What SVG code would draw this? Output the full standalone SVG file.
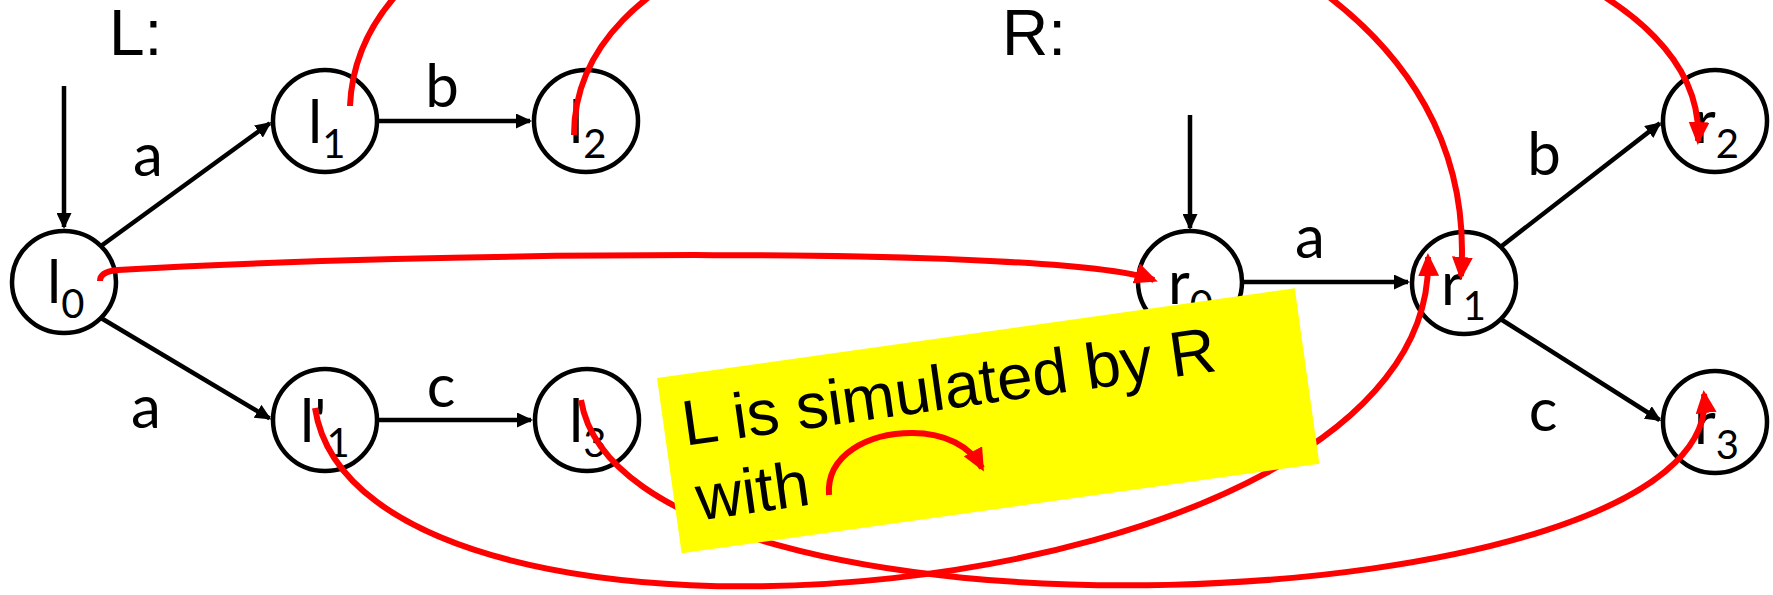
<svg xmlns="http://www.w3.org/2000/svg" width="1773" height="595" viewBox="0 0 1773 595">
  <defs>
    <style>
      .state ellipse { fill: #fff; stroke: #000; stroke-width: 4.5; }
      .state text { font-family: Lato, "Liberation Sans", sans-serif; font-size: 60px; fill: #000; }
      .sub { font-size: 40px; }
      .edge { stroke: #000; stroke-width: 4.5; fill: none; marker-end: url(#ah-black); }
      .sim { stroke: #f00; stroke-width: 6; fill: none; marker-end: url(#ah-red); }
      .lbl { font-family: Lato, "Liberation Sans", sans-serif; font-size: 60px; text-anchor: middle; fill: #000; }
      .title { font-family: "Liberation Sans", Arial, sans-serif; font-size: 64px; fill: #000; }
      .note rect { fill: #ff0; }
      .note text { font-family: "Liberation Sans", Arial, sans-serif; font-size: 64px; fill: #000; }
    </style>
    <marker id="ah-black" viewBox="0 0 16 15" refX="14" refY="7.5" markerWidth="16" markerHeight="15" markerUnits="userSpaceOnUse" orient="auto">
      <path d="M0,0 L16,7.5 L0,15 z" fill="#000"/>
    </marker>
    <marker id="ah-red" viewBox="0 0 23 21" refX="19" refY="10.5" markerWidth="23" markerHeight="21" markerUnits="userSpaceOnUse" orient="auto">
      <path d="M0,0 L23,10.5 L0,21 z" fill="#f00"/>
    </marker>
  </defs>

  <rect width="1773" height="595" fill="#fff"/>

  <!-- automaton titles -->
  <text class="title" x="109" y="55">L:</text>
  <text class="title" x="1002" y="55">R:</text>

  <!-- transitions -->
  <g id="transitions">
    <path class="edge" d="M64 86 L64 227"/>
    <path class="edge" d="M101 246 L269.8 123.3"/>
    <path class="edge" d="M377 121 L530 121"/>
    <path class="edge" d="M101 318 L269.6 418.4"/>
    <path class="edge" d="M377 420 L531 420"/>
    <path class="edge" d="M1190 115 L1190 228"/>
    <path class="edge" d="M1242 282 L1408 282"/>
    <path class="edge" d="M1500.5 247 L1659.8 123.4"/>
    <path class="edge" d="M1500.5 319 L1659.6 420"/>
    <text class="lbl" x="148" y="176">a</text>
    <text class="lbl" x="442" y="107">b</text>
    <text class="lbl" x="146" y="428">a</text>
    <text class="lbl" x="441" y="407">c</text>
    <text class="lbl" x="1310" y="258">a</text>
    <text class="lbl" x="1544" y="175">b</text>
    <text class="lbl" x="1543" y="431">c</text>
  </g>

  <!-- states of L -->
  <g id="l0" class="state"><ellipse cx="64" cy="282" rx="52" ry="51"/><text x="47" y="303">l<tspan class="sub" dy="15">0</tspan></text></g>
  <g id="l1" class="state"><ellipse cx="325" cy="121" rx="52" ry="51"/><text x="308" y="143">l<tspan class="sub" dy="15">1</tspan></text></g>
  <g id="l2" class="state"><ellipse cx="586" cy="121" rx="52" ry="51"/><text x="569" y="143">l<tspan class="sub" dy="15">2</tspan></text></g>
  <g id="l1p" class="state"><ellipse cx="325" cy="420" rx="52" ry="51"/><text x="300" y="442">l'<tspan class="sub" dy="15">1</tspan></text></g>
  <g id="l3" class="state"><ellipse cx="587" cy="420" rx="52" ry="51"/><text x="569" y="442">l<tspan class="sub" dy="15">3</tspan></text></g>

  <!-- states of R -->
  <g id="r0" class="state"><ellipse cx="1190" cy="282" rx="52" ry="51"/><text x="1168" y="304">r<tspan class="sub" dy="15">0</tspan></text></g>
  <g id="r1" class="state"><ellipse cx="1464" cy="283" rx="52" ry="51"/><text x="1441" y="305">r<tspan class="sub" dy="15">1</tspan></text></g>
  <g id="r2" class="state"><ellipse cx="1715" cy="121" rx="52" ry="51"/><text x="1694" y="143">r<tspan class="sub" dy="15">2</tspan></text></g>
  <g id="r3" class="state"><ellipse cx="1715" cy="422" rx="52" ry="51"/><text x="1694" y="444">r<tspan class="sub" dy="15">3</tspan></text></g>

  <!-- simulation relation -->
  <g id="simulation">
    <path class="sim" d="M100 281 C100 274 106 271 118 270 C420 252 1060 245 1154 280"/>
    <path class="sim" d="M350 106 C365 -260 1500 -240 1461 276"/>
    <path class="sim" d="M574 135 C574 -222 1715 -170 1698 141"/>
    <path class="sim" d="M315 408 C360 705 1440 615 1428 257"/>
    <path class="sim" d="M581 400 C625 670 1730 625 1704 394"/>
  </g>

  <!-- note -->
  <g id="note" class="note">
    <g transform="translate(657,378) rotate(-8)">
      <rect x="0" y="0" width="644" height="177"/>
      <text x="18.5" y="71">L is simulated by R</text>
      <text x="22" y="147">with</text>
    </g>
    <path class="sim" d="M829 495 C826 455 868 433 912 433 C945 433 970 446 982 468"/>
  </g>
</svg>
